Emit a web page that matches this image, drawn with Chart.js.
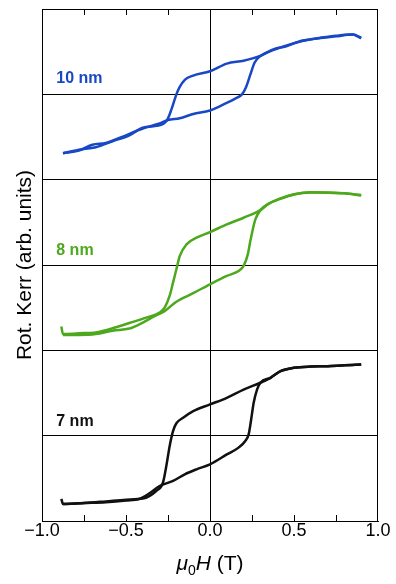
<!DOCTYPE html>
<html>
<head>
<meta charset="utf-8">
<script src="https://cdn.jsdelivr.net/npm/chart.js@4"></script>
<style>
  html, body { margin: 0; padding: 0; background: #fff; }
  #wrap { width: 396px; height: 584px; }
</style>
</head>
<body>
<div id="wrap"><canvas id="kerr"></canvas></div>
<script>
// field sweeps (T) and Kerr rotation (arb. units)
const field10Down = [0.90, 0.85, 0.75, 0.65, 0.55, 0.45, 0.38, 0.30, 0.20, 0.10, 0.0, -0.10, -0.15, -0.18, -0.20, -0.23, -0.255, -0.32, -0.40, -0.48, -0.58, -0.68, -0.78, -0.875];
const kerr10Down  = [0.66, 0.70, 0.686, 0.66, 0.63, 0.56, 0.53, 0.45, 0.394, 0.36, 0.27, 0.22, 0.17, 0.087, 0.0, -0.18, -0.30, -0.37, -0.39, -0.48, -0.55, -0.62, -0.65, -0.69];
const field10Up   = [-0.875, -0.78, -0.70, -0.62, -0.50, -0.40, -0.30, -0.25, -0.18, -0.10, 0.0, 0.10, 0.15, 0.19, 0.215, 0.24, 0.265, 0.30, 0.38, 0.50, 0.62, 0.75, 0.85, 0.90];
const kerr10Up    = [-0.69, -0.66, -0.59, -0.57, -0.48, -0.40, -0.34, -0.30, -0.28, -0.23, -0.19, -0.10, -0.05, 0.0, 0.087, 0.23, 0.37, 0.45, 0.52, 0.60, 0.65, 0.68, 0.70, 0.66];

const field8Down = [0.90, 0.80, 0.70, 0.60, 0.50, 0.42, 0.35, 0.30, 0.20, 0.10, 0.0, -0.08, -0.14, -0.18, -0.20, -0.22, -0.24, -0.27, -0.30, -0.38, -0.48, -0.56, -0.68, -0.78, -0.875, -0.885];
const kerr8Down  = [0.815, 0.84, 0.846, 0.854, 0.827, 0.776, 0.718, 0.643, 0.554, 0.476, 0.386, 0.32, 0.242, 0.105, -0.05, -0.206, -0.36, -0.50, -0.557, -0.616, -0.68, -0.73, -0.79, -0.80, -0.81, -0.72];
const field8Up   = [-0.875, -0.78, -0.68, -0.58, -0.48, -0.40, -0.33, -0.27, -0.20, -0.10, 0.0, 0.10, 0.17, 0.20, 0.225, 0.24, 0.255, 0.27, 0.30, 0.35, 0.42, 0.50, 0.60, 0.70, 0.80, 0.90];
const kerr8Up    = [-0.82, -0.82, -0.81, -0.77, -0.745, -0.675, -0.60, -0.54, -0.43, -0.33, -0.226, -0.128, -0.07, -0.01, 0.125, 0.28, 0.42, 0.535, 0.643, 0.72, 0.78, 0.83, 0.85, 0.85, 0.84, 0.82];

const field7Down = [0.90, 0.80, 0.70, 0.60, 0.50, 0.42, 0.36, 0.30, 0.20, 0.10, 0.0, -0.10, -0.16, -0.20, -0.22, -0.24, -0.26, -0.28, -0.32, -0.40, -0.50, -0.62, -0.75, -0.875, -0.885];
const kerr7Down  = [0.834, 0.826, 0.814, 0.81, 0.795, 0.756, 0.678, 0.62, 0.54, 0.444, 0.366, 0.288, 0.21, 0.145, 0.054, -0.12, -0.356, -0.55, -0.648, -0.737, -0.75, -0.77, -0.79, -0.80, -0.74];
const field7Up   = [-0.875, -0.75, -0.62, -0.50, -0.42, -0.36, -0.30, -0.22, -0.15, -0.08, 0.0, 0.10, 0.17, 0.21, 0.23, 0.245, 0.26, 0.28, 0.30, 0.36, 0.42, 0.50, 0.60, 0.70, 0.80, 0.90];
const kerr7Up    = [-0.80, -0.79, -0.78, -0.76, -0.74, -0.675, -0.59, -0.53, -0.453, -0.394, -0.336, -0.22, -0.14, -0.063, 0.015, 0.19, 0.386, 0.54, 0.62, 0.678, 0.756, 0.795, 0.81, 0.814, 0.826, 0.834];

const sampleNames = ['10 nm', '8 nm', '7 nm'];
const sampleColors = ['#1848c4', '#4ca81c', '#111111'];
const xTicks = [-1.0, -0.5, 0.0, 0.5, 1.0];

const FONT = 'Liberation Sans, Arial, sans-serif';
const toPoints = (xs, ys) => xs.map((x, i) => ({ x: x, y: ys[i] }));

function branch(xs, ys, axis, color) {
  return {
    data: toPoints(xs, ys),
    yAxisID: axis,
    borderColor: color,
    backgroundColor: color,
    borderWidth: 2.5,
    pointRadius: 0,
    showLine: true,
    cubicInterpolationMode: 'monotone'
  };
}

const datasets = [
  branch(field10Down, kerr10Down, 'y10', sampleColors[0]),
  branch(field10Up, kerr10Up, 'y10', sampleColors[0]),
  branch(field8Down, kerr8Down, 'y8', sampleColors[1]),
  branch(field8Up, kerr8Up, 'y8', sampleColors[1]),
  branch(field7Down, kerr7Down, 'y7', sampleColors[2]),
  branch(field7Up, kerr7Up, 'y7', sampleColors[2])
];

function panelAxis(withTitle) {
  return {
    type: 'linear',
    position: 'left',
    stack: 'kerr',
    stackWeight: 1,
    min: -1, max: 1,
    ticks: { display: false, stepSize: 1 },
    grid: { color: '#000', lineWidth: 1, drawTicks: false },
    border: { color: '#000', width: 1 },
    title: {
      display: withTitle,
      text: 'Rot. Kerr (arb. units)',
      color: '#000',
      font: { family: FONT, size: 21 },
      padding: { top: 13, bottom: 0 }
    },
    afterFit: s => { s.width = 42; }
  };
}

// frame, inward ticks, sample labels and the field axis title
const framePlugin = {
  id: 'frame',
  afterDatasetsDraw(chart) {
    const { ctx, chartArea: a, scales } = chart;
    ctx.save();
    ctx.strokeStyle = '#000';
    ctx.lineWidth = 1;
    ctx.strokeRect(a.left + 0.5, a.top + 0.5, a.right - a.left - 1, a.bottom - a.top);
    ctx.beginPath();
    for (let v = -0.75; v < 1; v += 0.25) {
      const px = Math.round(scales.x.getPixelForValue(v)) + 0.5;
      ctx.moveTo(px, a.top); ctx.lineTo(px, a.top + 6);
      ctx.moveTo(px, a.bottom); ctx.lineTo(px, a.bottom - 6);
    }
    ctx.stroke();

    ctx.font = 'bold 16px ' + FONT;
    ctx.textBaseline = 'middle';
    ctx.textAlign = 'left';
    const axes = ['y10', 'y8', 'y7'];
    const labelY = [0.18, 0.17, 0.16];
    axes.forEach((id, i) => {
      ctx.fillStyle = sampleColors[i];
      ctx.fillText(sampleNames[i], scales.x.getPixelForValue(-0.915), scales[id].getPixelForValue(labelY[i]));
    });

    // μ0H (T) with italic symbols and subscript
    const parts = [
      { t: '\u03bc', f: 'italic 21px ' + FONT, dy: 0 },
      { t: '0', f: '14px ' + FONT, dy: 5 },
      { t: 'H', f: 'italic 21px ' + FONT, dy: 0 },
      { t: ' (T)', f: '21px ' + FONT, dy: 0 }
    ];
    ctx.textBaseline = 'alphabetic';
    ctx.fillStyle = '#000';
    let total = 0;
    parts.forEach(p => { ctx.font = p.f; p.w = ctx.measureText(p.t).width; total += p.w; });
    let x = (a.left + a.right) / 2 - total / 2;
    const base = a.bottom + 49;
    parts.forEach(p => { ctx.font = p.f; ctx.fillText(p.t, x, base + p.dy); x += p.w; });
    ctx.restore();
  }
};

new Chart(document.getElementById('kerr'), {
  type: 'scatter',
  data: { datasets: datasets },
  options: {
    responsive: true,
    maintainAspectRatio: false,
    animation: false,
    layout: { padding: { top: 9, right: 18, left: 0, bottom: 0 } },
    plugins: { legend: { display: false }, tooltip: { enabled: false } },
    scales: {
      x: {
        type: 'linear',
        min: -1, max: 1,
        afterBuildTicks: s => { s.ticks = xTicks.map(v => ({ value: v })); },
        ticks: {
          color: '#000',
          padding: -1,
          maxRotation: 0,
          font: { family: FONT, size: 18 },
          callback: v => (v < 0 ? '\u2212' : '') + Math.abs(v).toFixed(1)
        },
        grid: {
          color: c => (c.tick && c.tick.value === 0 ? '#000' : 'rgba(0,0,0,0)'),
          lineWidth: 1,
          drawTicks: false
        },
        border: { color: '#000', width: 1 },
        title: { display: false },
        afterFit: s => { s.height = 63; }
      },
      // stacked axes are laid out bottom-up
      y7: panelAxis(false),
      y8: panelAxis(true),
      y10: panelAxis(false)
    }
  },
  plugins: [framePlugin]
});
</script>
</body>
</html>
